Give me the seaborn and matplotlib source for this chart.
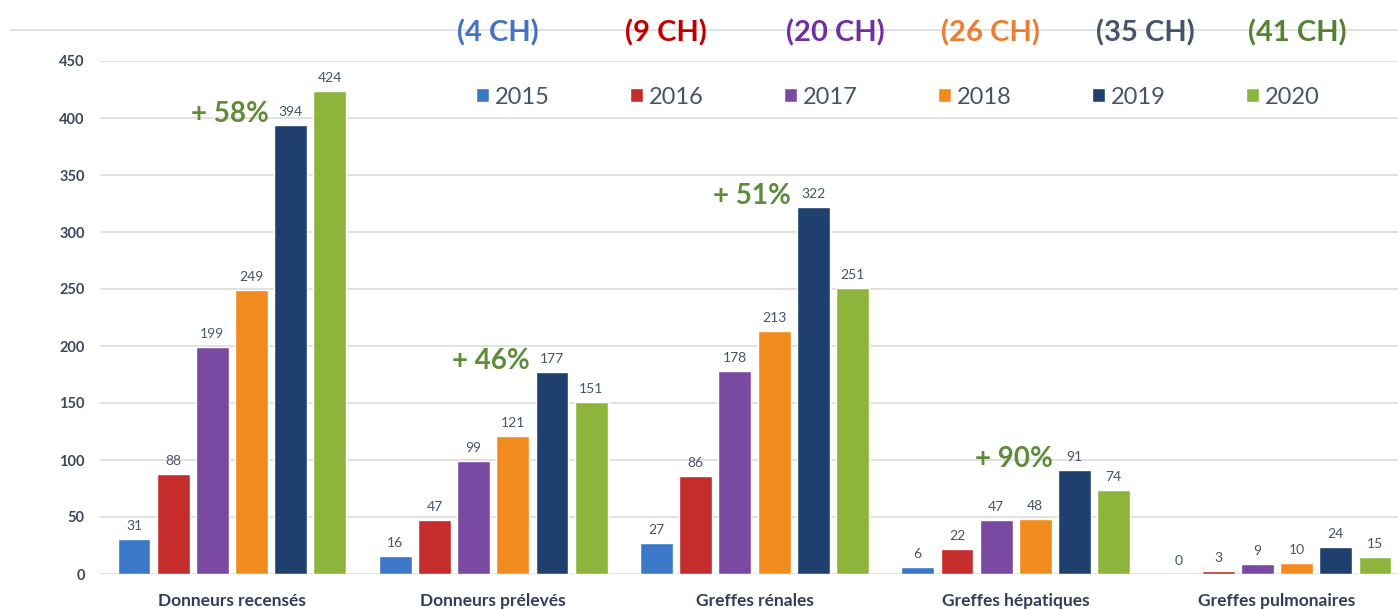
import matplotlib
matplotlib.use("Agg")
import matplotlib.pyplot as plt
from matplotlib.lines import Line2D
import seaborn as sns
import pandas as pd

categories = ["Donneurs recensés", "Donneurs prélevés", "Greffes rénales",
              "Greffes hépatiques", "Greffes pulmonaires"]
years = ["2015", "2016", "2017", "2018", "2019", "2020"]
v2015 = [31, 16, 27, 6, 0]
v2016 = [88, 47, 86, 22, 3]
v2017 = [199, 99, 178, 47, 9]
v2018 = [249, 121, 213, 48, 10]
v2019 = [394, 177, 322, 91, 24]
v2020 = [424, 151, 251, 74, 15]
ch_counts = [4, 9, 20, 26, 35, 41]
growth_labels = ["+ 58%", "+ 46%", "+ 51%", "+ 90%"]
yticks = [0, 50, 100, 150, 200, 250, 300, 350, 400, 450]

colors = ["#3B78C7", "#C42D2C", "#7A4AA3", "#F28B1E", "#1F3F6E", "#8DB53C"]
ch_colors = ["#4472C4", "#C00000", "#7030A0", "#ED7D31", "#44546A", "#548235"]
txt_col = "#44546A"
cat_col = "#2F3E5C"
green = "#5E8C3A"

series = [v2015, v2016, v2017, v2018, v2019, v2020]
rows = []
for y, vals in zip(years, series):
    for c, v in zip(categories, vals):
        rows.append({"cat": c, "year": y, "val": v})
df = pd.DataFrame(rows)

sns.set_theme(style="white")
plt.rcParams["font.family"] = ["Lato", "DejaVu Sans"]

fig = plt.figure(figsize=(13.98, 6.09), dpi=100)
ax = fig.add_axes([100 / 1398, (609 - 574) / 609, 1 - 100 / 1398, (574 - 61) / 609])

sns.barplot(data=df, x="cat", y="val", hue="year", palette=colors,
            width=0.9, gap=0.16, ax=ax, legend=True, saturation=1)

ax.set_ylim(0, 450)
ax.set_xlim(-0.505, 4.463)
ax.set_yticks(yticks)
ax.yaxis.grid(True, color="#D9D9D9", linewidth=1.1)
ax.set_axisbelow(True)
for s in ax.spines.values():
    s.set_visible(False)
ax.set_xlabel("")
ax.set_ylabel("")
ax.tick_params(axis="y", length=0, pad=11, labelsize=10.5, labelcolor="#3A475E")
ax.tick_params(axis="x", length=0, pad=14, labelsize=12.5, labelcolor=cat_col)
for t in ax.get_yticklabels():
    t.set_fontweight("bold")
for t in ax.get_xticklabels():
    t.set_fontweight("bold")

for cont in ax.containers:
    ax.bar_label(cont, padding=5, fontsize=10, color=txt_col)

# growth annotations beside the 2019 bars
c2019 = ax.containers[4]
for i, lab in enumerate(growth_labels):
    p = c2019[i]
    ax.annotate(lab, (p.get_x(), p.get_height()), xytext=(-4, 8),
                textcoords="offset points", ha="right", va="center",
                fontsize=20, fontweight="bold", color=green)

# legend
handles, labels = ax.get_legend_handles_labels()
leg = ax.legend(handles, labels, ncol=6, loc="center",
                bbox_to_anchor=(898 / 1398, 1 - 97 / 609),
                bbox_transform=fig.transFigure, frameon=False,
                fontsize=17, handlelength=0.55, handleheight=0.55,
                handletextpad=0.25, columnspacing=3.4, labelcolor=txt_col)

# top decorative line
fig.add_artist(Line2D([10 / 1398, 1], [1 - 30 / 609] * 2,
                      transform=fig.transFigure, color="#D9D9D9", lw=1.1))

ch_x = [498, 666, 835, 990, 1145, 1297]
for xpx, n, col in zip(ch_x, ch_counts, ch_colors):
    fig.text(xpx / 1398, 1 - 33 / 609, f"({n} CH)", ha="center", va="center",
             fontsize=21, fontweight="bold", color=col)

fig.savefig("out.png", dpi=100)
